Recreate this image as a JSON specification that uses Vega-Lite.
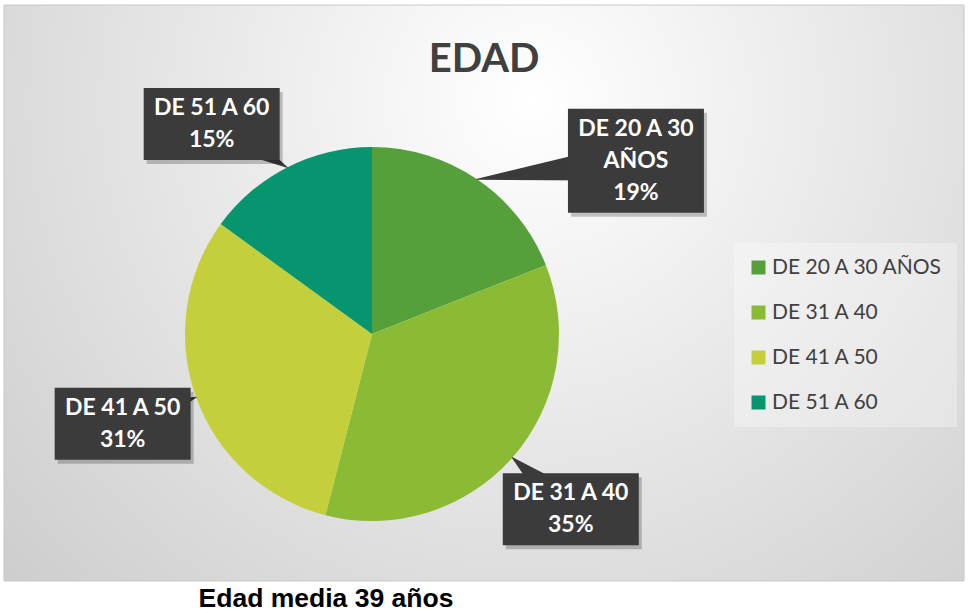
{
  "$schema": "https://vega.github.io/schema/vega-lite/v6.json",
  "padding": {"left": 3, "top": 4, "right": 0, "bottom": 0},
  "background": "white",
  "spacing": 2,
  "config": {"view": {"stroke": null}},
  "vconcat": [
    {
      "width": 960,
      "height": 576,
      "title": {
        "text": "EDAD",
        "orient": "top",
        "frame": "group",
        "anchor": "middle",
        "offset": -107,
        "baseline": "alphabetic",
        "font": "Lato",
        "fontSize": 40,
        "fontWeight": "bold",
        "color": "#404040"
      },
      "layer": [
        {
          "data": {"values": [{}]},
          "mark": {
            "type": "rect",
            "fill": {
              "gradient": "radial",
              "x1": 0.55, "y1": 0.3, "r1": 0,
              "x2": 0.55, "y2": 0.3, "r2": 0.85,
              "stops": [
                {"offset": 0, "color": "#ffffff"},
                {"offset": 1, "color": "#c6c6c6"}
              ]
            },
            "stroke": "#c8c8c8",
            "strokeWidth": 1
          },
          "encoding": {}
        },
        {
          "data": {
            "values": [
              {"group": "DE 20 A 30 AÑOS", "pct": 19},
              {"group": "DE 31 A 40", "pct": 35},
              {"group": "DE 41 A 50", "pct": 31},
              {"group": "DE 51 A 60", "pct": 15}
            ]
          },
          "transform": [
            {"joinaggregate": [{"op": "sum", "field": "pct", "as": "total"}]},
            {"window": [{"op": "sum", "field": "pct", "as": "cum"}], "sort": [{"field": "group", "order": "ascending"}], "frame": [null, 0]},
            {"calculate": "(datum.cum - datum.pct / 2) / datum.total * 2 * PI", "as": "mid"},
            {"calculate": "187 * sin(datum.mid)", "as": "tx"},
            {"calculate": "187 * cos(datum.mid)", "as": "ty"},
            {"calculate": "265 * sin(datum.mid) + (datum.group == 'DE 20 A 30 AÑOS' ? 115 : datum.group == 'DE 51 A 60' ? -40 : 0)", "as": "lx"},
            {"calculate": "265 * cos(datum.mid) + (datum.group == 'DE 20 A 30 AÑOS' ? -46 : datum.group == 'DE 51 A 60' ? -26 : 0)", "as": "ly"},
            {"calculate": "replace(datum.group, ' AÑOS', '\\nAÑOS') + '\\n' + datum.pct + '%'", "as": "label"},
            {"calculate": "length(split(datum.label, '\\n'))", "as": "nlines"},
            {"calculate": "datum.ly + (datum.nlines - 1) * 16", "as": "texty"},
            {"calculate": "datum.lx - 68", "as": "bx0"},
            {"calculate": "datum.lx + 68", "as": "bx1"},
            {"calculate": "datum.ly - (16 * datum.nlines + 4)", "as": "by0"},
            {"calculate": "datum.ly + (16 * datum.nlines + 4)", "as": "by1"}
          ],
          "layer": [
            {
              "mark": {"type": "arc", "outerRadius": 187, "stroke": null},
              "encoding": {
                "x": {"datum": 0, "type": "quantitative", "scale": {"domain": [-368, 592], "nice": false, "zero": false}, "axis": null},
                "y": {"datum": 0, "type": "quantitative", "scale": {"domain": [-247, 329], "nice": false, "zero": false}, "axis": null},
                "theta": {"field": "pct", "type": "quantitative", "stack": true},
                "order": {"field": "group", "sort": "ascending"},
                "color": {
                  "field": "group",
                  "type": "nominal",
                  "scale": {
                    "domain": ["DE 20 A 30 AÑOS", "DE 31 A 40", "DE 41 A 50", "DE 51 A 60"],
                    "range": ["#55A03B", "#8BBA35", "#C4D03B", "#06956F"]
                  },
                  "legend": {
                    "orient": "none",
                    "legendX": 730,
                    "legendY": 238,
                    "title": null,
                    "symbolType": "square",
                    "symbolSize": 196,
                    "symbolStrokeWidth": 0,
                    "labelFont": "Lato",
                    "labelFontSize": 21,
                    "labelColor": "#404040",
                    "labelOffset": 3,
                    "labelLimit": 400,
                    "rowPadding": 23,
                    "padding": 14,
                    "fillColor": "rgba(255,255,255,0.3)"
                  }
                }
              }
            },
            {
              "transform": [
                {"fold": ["lx", "tx"], "as": ["end", "px"]},
                {"calculate": "datum.end == 'lx' ? datum.ly : datum.ty", "as": "py"},
                {"calculate": "datum.end == 'lx' ? 1 : 0", "as": "w"}
              ],
              "mark": {"type": "trail", "color": "#3a3a3a"},
              "encoding": {
                "x": {"field": "px", "type": "quantitative", "scale": {"domain": [-368, 592], "nice": false, "zero": false}, "axis": null},
                "y": {"field": "py", "type": "quantitative", "scale": {"domain": [-247, 329], "nice": false, "zero": false}, "axis": null},
                "detail": {"field": "group"},
                "size": {"field": "w", "type": "quantitative", "scale": {"domain": [0, 1], "range": [0, 40]}, "legend": null}
              }
            },
            {
              "mark": {"type": "rect", "color": "#000000", "opacity": 0.22, "xOffset": 3, "x2Offset": 3, "yOffset": 4, "y2Offset": 4},
              "encoding": {
                "x": {"field": "bx0", "type": "quantitative", "scale": {"domain": [-368, 592], "nice": false, "zero": false}, "axis": null},
                "x2": {"field": "bx1"},
                "y": {"field": "by0", "type": "quantitative", "scale": {"domain": [-247, 329], "nice": false, "zero": false}, "axis": null},
                "y2": {"field": "by1"}
              }
            },
            {
              "mark": {"type": "rect", "color": "#3b3b3b"},
              "encoding": {
                "x": {"field": "bx0", "type": "quantitative", "scale": {"domain": [-368, 592], "nice": false, "zero": false}, "axis": null},
                "x2": {"field": "bx1"},
                "y": {"field": "by0", "type": "quantitative", "scale": {"domain": [-247, 329], "nice": false, "zero": false}, "axis": null},
                "y2": {"field": "by1"}
              }
            },
            {
              "mark": {"type": "text", "font": "Lato", "fontWeight": "bold", "fontSize": 23, "color": "#ffffff", "lineBreak": "\n", "lineHeight": 32, "align": "center", "baseline": "middle"},
              "encoding": {
                "x": {"field": "lx", "type": "quantitative", "scale": {"domain": [-368, 592], "nice": false, "zero": false}, "axis": null},
                "y": {"field": "texty", "type": "quantitative", "scale": {"domain": [-247, 329], "nice": false, "zero": false}, "axis": null},
                "text": {"field": "label"}
              }
            }
          ]
        }
      ]
    },
    {
      "width": 644,
      "height": 30,
      "data": {"values": [{"caption": "Edad media 39 años"}]},
      "mark": {"type": "text", "font": "Liberation Sans", "fontSize": 26.5, "fontWeight": "bold", "color": "#000000", "align": "center", "baseline": "middle"},
      "encoding": {"text": {"field": "caption"}}
    }
  ]
}
